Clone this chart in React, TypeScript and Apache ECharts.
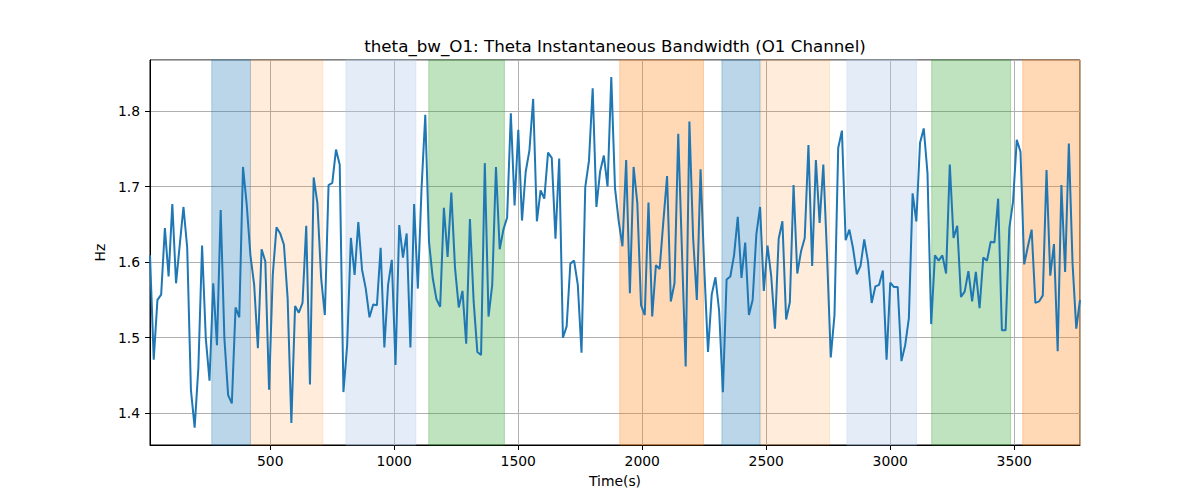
import React, { useEffect, useRef } from 'react';
import * as echarts from 'echarts';

const T0 = 15;
const STEP = 15;
const X_MIN = 15;
const X_MAX = 3765;
const Y_MIN = 1.358;
const Y_MAX = 1.8675;

const hzValues: number[] = [
  1.609, 1.471, 1.550, 1.557, 1.645, 1.581, 1.677, 1.572, 1.623, 1.673,
  1.619, 1.431, 1.381, 1.460, 1.622, 1.499, 1.443, 1.572, 1.490, 1.669,
  1.499, 1.424, 1.413, 1.540, 1.527, 1.726, 1.676, 1.609, 1.570, 1.486,
  1.617, 1.601, 1.431, 1.583, 1.646, 1.638, 1.623, 1.552, 1.387, 1.542,
  1.533, 1.546,
  1.648, 1.438, 1.712, 1.678, 1.579, 1.530, 1.702, 1.705, 1.749, 1.729,
  1.428, 1.490, 1.632, 1.583, 1.653, 1.590, 1.565, 1.527, 1.544, 1.543,
  1.619, 1.487, 1.570, 1.603, 1.464, 1.649, 1.606, 1.638, 1.487, 1.677,
  1.565, 1.698, 1.795, 1.627, 1.579, 1.551, 1.541, 1.672, 1.607, 1.692,
  1.592, 1.540,
  1.562, 1.492, 1.657, 1.548, 1.481, 1.477, 1.731, 1.528, 1.570, 1.726,
  1.617, 1.643, 1.659, 1.797, 1.675, 1.775, 1.655, 1.720, 1.748, 1.816,
  1.654, 1.695, 1.684, 1.745, 1.738, 1.631, 1.737, 1.500, 1.515, 1.598,
  1.602, 1.570, 1.480, 1.699, 1.734, 1.830, 1.673, 1.720, 1.741, 1.700,
  1.845, 1.698,
  1.654, 1.621, 1.735, 1.559, 1.726, 1.678, 1.543, 1.530, 1.679, 1.528,
  1.596, 1.591, 1.654, 1.714, 1.548, 1.572, 1.770, 1.614, 1.462, 1.786,
  1.632, 1.550, 1.723, 1.592, 1.481, 1.557, 1.580, 1.535, 1.428, 1.577,
  1.581, 1.609, 1.660, 1.579, 1.626, 1.530, 1.550, 1.637, 1.673, 1.562,
  1.622,
  1.581, 1.512, 1.631, 1.654, 1.524, 1.547, 1.702, 1.585, 1.614, 1.632,
  1.755, 1.595, 1.735, 1.652, 1.729, 1.609, 1.474, 1.530, 1.751, 1.774,
  1.629, 1.643, 1.618, 1.584, 1.595, 1.630, 1.601, 1.546, 1.568, 1.570,
  1.589, 1.471, 1.573, 1.567, 1.567, 1.469, 1.490, 1.526, 1.691, 1.654,
  1.758, 1.777,
  1.718, 1.518, 1.609, 1.602, 1.609, 1.585, 1.729, 1.632, 1.648, 1.554,
  1.561, 1.588, 1.548, 1.587, 1.539, 1.606, 1.602, 1.627, 1.626, 1.684,
  1.510, 1.510, 1.645, 1.680, 1.762, 1.746, 1.597, 1.621, 1.643, 1.546,
  1.548, 1.556, 1.722, 1.582, 1.624, 1.482, 1.702, 1.587, 1.757, 1.598,
  1.512, 1.550,
];

const bandStarts = [264, 420, 805, 1139, 1909, 2321, 2478, 2825, 3167, 3534];
const bandEnds = [420, 712, 1087, 1444, 2247, 2475, 2755, 3106, 3485, 3765];
const bandColors = [
  'rgba(31,119,180,0.3)',
  'rgba(255,127,14,0.15)',
  'rgba(174,199,232,0.33)',
  'rgba(44,160,44,0.3)',
  'rgba(255,127,14,0.3)',
  'rgba(31,119,180,0.3)',
  'rgba(255,127,14,0.15)',
  'rgba(174,199,232,0.33)',
  'rgba(44,160,44,0.3)',
  'rgba(255,127,14,0.3)',
];

const TITLE = 'theta_bw_O1: Theta Instantaneous Bandwidth (O1 Channel)';
const FONT = 'DejaVu Sans';

export default function App() {
  const ref = useRef<HTMLDivElement>(null);
  useEffect(() => {
    document.body.style.margin = '0';
    if (!ref.current) return;
    const chart = echarts.init(ref.current, undefined, { renderer: 'svg' });
    const lineData = hzValues.map((v, i) => [T0 + i * STEP, v]);
    const areas = bandStarts.map((s, i) => [
      { xAxis: s, itemStyle: { color: bandColors[i], borderColor: bandColors[i], borderWidth: 1 } },
      { xAxis: bandEnds[i] },
    ]);
    chart.setOption({
      animation: false,
      backgroundColor: '#fff',
      textStyle: { fontFamily: FONT },
      grid: {
        left: 150, right: 120, top: 60, bottom: 55,
        show: true, borderColor: '#000', borderWidth: 1, backgroundColor: 'transparent',
      },
      graphic: [
        {
          type: 'text', x: 615, y: 46, z: 10,
          style: {
            text: TITLE, font: `16.7px "${FONT}"`, fill: '#000',
            textAlign: 'center', textVerticalAlign: 'middle',
          },
        },
      ],
      xAxis: {
        type: 'value', min: X_MIN, max: X_MAX, splitNumber: 8,
        name: 'Time(s)', nameLocation: 'middle', nameGap: 29,
        nameTextStyle: { fontSize: 13.9, color: '#000', fontFamily: FONT },
        axisLine: { show: true, onZero: false, lineStyle: { color: '#000', width: 1 } },
        axisTick: { show: true, length: 5, lineStyle: { color: '#000' } },
        axisLabel: {
          color: '#000', fontSize: 13.9, fontFamily: FONT, margin: 9,
          showMinLabel: false, showMaxLabel: false,
          formatter: (v: number) => (Math.abs(v % 500) < 1e-6 ? String(v) : ''),
        },
        splitLine: { show: true, lineStyle: { color: '#b0b0b0', width: 1 } },
      },
      yAxis: {
        type: 'value', min: Y_MIN, max: Y_MAX, splitNumber: 5,
        name: 'Hz', nameLocation: 'middle', nameGap: 35,
        nameTextStyle: { fontSize: 13.9, color: '#000', fontFamily: FONT },
        axisLine: { show: true, onZero: false, lineStyle: { color: '#000', width: 1 } },
        axisTick: { show: true, length: 5, lineStyle: { color: '#000' } },
        axisLabel: {
          color: '#000', fontSize: 13.9, fontFamily: FONT, margin: 10,
          showMinLabel: false, showMaxLabel: false,
          formatter: (v: number) =>
            Math.abs(v * 10 - Math.round(v * 10)) < 1e-6 ? v.toFixed(1) : '',
        },
        splitLine: { show: true, lineStyle: { color: '#b0b0b0', width: 1 } },
      },
      series: [
        {
          type: 'line', name: 'bands', data: [], z: 1, silent: true,
          markArea: { silent: true, data: areas },
        },
        {
          type: 'line', name: 'theta_bw_O1', data: lineData, z: 3,
          showSymbol: false, symbol: 'none',
          lineStyle: { color: '#1f77b4', width: 2 },
          itemStyle: { color: '#1f77b4' },
        },
      ],
    });
    return () => chart.dispose();
  }, []);
  return <div ref={ref} style={{ width: 1200, height: 500 }} />;
}
